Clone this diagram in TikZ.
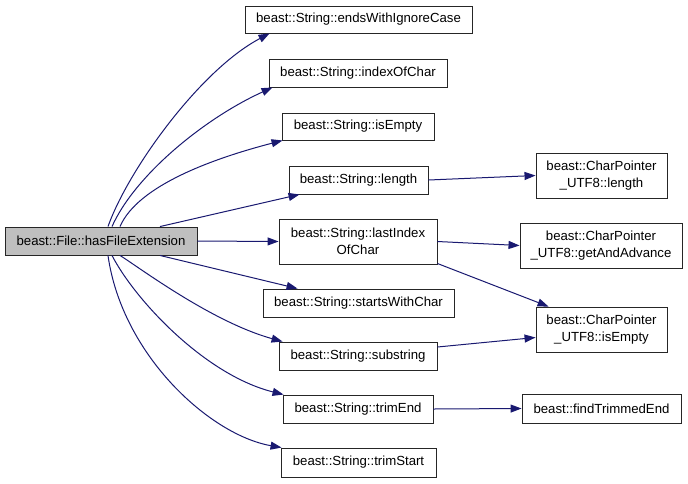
\documentclass[tikz,border=0pt]{standalone}
\usepackage{fontspec}
\setmainfont{Liberation Sans}
\usetikzlibrary{arrows.meta}
\definecolor{edgeblue}{HTML}{191970}
\definecolor{mainfill}{HTML}{BFBFBF}
\tikzset{
  fbox/.style={draw=black!85, line width=0.9pt, inner sep=0pt, align=center,
    font=\fontsize{13.2pt}{16.5pt}\selectfont},
  mainbox/.style={fbox, fill=mainfill},
  edge/.style={draw=edgeblue, line width=1pt, -{Triangle[length=11pt,width=8pt]}, fill=none},
}
\begin{document}
\begin{tikzpicture}[x=1pt,y=-1pt]
\useasboundingbox (0,0) rectangle (688,483);
% nodes
\node[mainbox, minimum width=192pt, minimum height=28pt] (main) at (101,241) {beast::File::hasFileExtension};
\node[fbox, minimum width=227pt, minimum height=27pt] (ew) at (358.5,19.5) {beast::String::endsWithIgnoreCase};
\node[fbox, minimum width=178pt, minimum height=28pt] (ic) at (358,73) {beast::String::indexOfChar};
\node[fbox, minimum width=152pt, minimum height=27pt] (ie) at (358,126.5) {beast::String::isEmpty};
\node[fbox, minimum width=139pt, minimum height=28pt] (ln) at (358.5,180) {beast::String::length};
\node[fbox, minimum width=158pt, minimum height=45pt] (li) at (358,241.5) {beast::String::lastIndex\\OfChar};
\node[fbox, minimum width=191pt, minimum height=28pt] (sw) at (358.5,303) {beast::String::startsWithChar};
\node[fbox, minimum width=158pt, minimum height=28pt] (ss) at (358,356) {beast::String::substring};
\node[fbox, minimum width=150pt, minimum height=28pt] (te) at (358,409) {beast::String::trimEnd};
\node[fbox, minimum width=155pt, minimum height=29pt] (ts) at (358.5,462.5) {beast::String::trimStart};
\node[fbox, minimum width=131pt, minimum height=45pt] (cl) at (601.5,175.5) {beast::CharPointer\\\_UTF8::length};
\node[fbox, minimum width=162pt, minimum height=45pt] (ga) at (601,245.5) {beast::CharPointer\\\_UTF8::getAndAdvance};
\node[fbox, minimum width=131pt, minimum height=45pt] (ci) at (601.5,329.5) {beast::CharPointer\\\_UTF8::isEmpty};
\node[fbox, minimum width=159pt, minimum height=29pt] (ft) at (601.5,408.5) {beast::findTrimmedEnd};
% edges from main
\draw[edge] ([xshift=7pt]main.north) .. controls (128,170) and (200,70) .. ([xshift=25pt]ew.south west);
\draw[edge] ([xshift=11pt]main.north) .. controls (135,175) and (205,118) .. ([xshift=4pt]ic.south west);
\draw[edge] ([xshift=19pt]main.north) .. controls (138,185) and (215,158) .. ([xshift=1pt]ie.south west);
\draw[edge] ([xshift=59pt]main.north) -- ([xshift=11pt]ln.south west);
\draw[edge] (main.east) -- (li.west);
\draw[edge] ([xshift=59pt]main.south) -- ([xshift=35pt]sw.north west);
\draw[edge] ([xshift=19pt]main.south) .. controls (140,268) and (212,322) .. ([xshift=4pt]ss.north west);
\draw[edge] ([xshift=11pt]main.south) .. controls (135,300) and (205,375) .. ([xshift=1pt]te.north west);
\draw[edge] ([xshift=7pt]main.south) .. controls (122,355) and (210,435) .. ([xshift=1pt]ts.north west);
% second level
\draw[edge] (ln.east) -- (cl.west);
\draw[edge] (li.east) -- (ga.west);
\draw[edge] ([yshift=-22pt]li.east) -- ([xshift=13pt]ci.north west);
\draw[edge] ([yshift=9pt]ss.east) -- ([yshift=-8pt]ci.west);
\draw[edge] (te.east) -- (ft.west);
\end{tikzpicture}
\end{document}
